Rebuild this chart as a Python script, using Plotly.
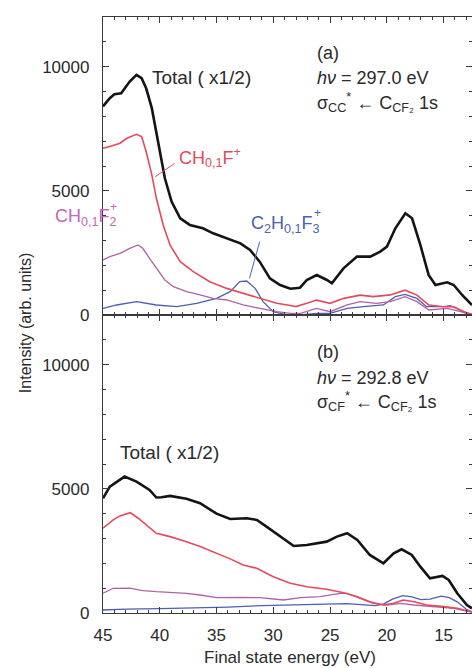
import plotly.graph_objects as go
from plotly.subplots import make_subplots

# ---------------- panel (a): hv = 297.0 eV ----------------
a_total_e = [45, 44.4, 44.0, 43.4, 42.65, 42.05, 41.6, 41.2, 40.7, 40.15, 39.55, 38.96,
             38.2, 37.35, 36.2, 35.3, 34.1, 32.9, 32.05, 31.2, 30.3, 29.4, 28.5, 27.65,
             27.05, 26.17, 25.28, 24.84, 23.82, 22.63, 21.46, 20.58, 19.99, 19.25, 18.37,
             17.78, 17.05, 16.32, 15.72, 14.69, 14.11, 13.37, 12.5]
a_total_i = [8400, 8730, 8890, 8930, 9400, 9670, 9535, 9130, 8330, 6985, 5505, 4566,
             3893, 3627, 3490, 3290, 3087, 2885, 2620, 2148, 1475, 1209, 1060, 1100,
             1410, 1612, 1410, 1274, 1878, 2350, 2350, 2551, 2752, 3490, 4094,
             3893, 2820, 1612, 1209, 1315, 1209, 806, 403]

a_chf_e = [45, 44.4, 43.5, 42.9, 42.05, 41.6, 41.2, 40.7, 40.3, 39.7, 39.1, 38.2, 37.05,
           35.6, 34.1, 32.65, 31.2, 29.7, 28.5, 28.0, 27.05, 26.2, 25.0, 23.8, 22.35,
           21.2, 19.7, 18.4, 17.35, 16.3, 15.0, 14.1, 13.2, 12.5]
a_chf_i = [6714, 6782, 6916, 7117, 7278, 7185, 6581, 5642, 4699, 3627, 2821, 2148, 1745,
           1342, 1072, 870, 669, 470, 380, 340, 470, 600, 470, 670, 800,
           740, 810, 1000, 800, 400, 330, 330, 130, 30]

a_chf2_e = [45, 44.4, 43.5, 42.65, 41.9, 41.5, 40.9, 40.3, 39.55, 38.8, 37.65, 36.45, 35.3,
            34.1, 32.65, 31.2, 29.7, 28.5, 27.6, 26.2, 25.0, 23.5, 22.35, 20.9, 19.7,
            18.4, 17.35, 16.3, 14.7, 13.5, 12.5]
a_chf2_i = [2216, 2350, 2484, 2686, 2820, 2686, 2283, 1880, 1410, 1141, 940, 806, 669,
            604, 403, 266, 133, 64, 64, 266, 133, 403, 536, 468, 536,
            737, 536, 201, 266, 133, 0]

a_c2hf3_e = [45, 43.8, 42.05, 40.3, 38.5, 36.75, 35.0, 33.8, 32.95, 32.35, 31.6, 30.9, 30.0,
             28.8, 27.6, 26.2, 25.0, 23.5, 22.05, 20.3, 19.25, 18.4, 17.35, 16.5, 15.0,
             14.4, 13.4, 12.5]
a_c2hf3_i = [266, 403, 536, 403, 335, 468, 669, 940, 1342, 1370, 1072, 536, 133,
             0, 0, 64, 64, 266, 335, 403, 737, 830, 669, 335, 335,
             375, 161, 0]

# ---------------- panel (b): hv = 292.8 eV ----------------
b_total_e = [45, 44.4, 43.1, 42.05, 40.9, 40.3, 39.85, 39.1, 37.65, 36.45, 35.0, 33.8,
             32.35, 31.45, 30.6, 29.4, 28.2, 27.05, 25.3, 24.4, 23.5, 22.6, 21.5, 20.3,
             19.4, 18.7, 17.8, 17.05, 16.2, 15.1, 14.55, 13.8, 12.95, 12.5]
b_total_i = [4622, 5090, 5493, 5291, 4957, 4650, 4662, 4715, 4600, 4421, 4000, 3788,
             3816, 3748, 3478, 3075, 2700, 2740, 2873, 3075, 3212, 2942, 2337, 2003,
             2406, 2567, 2337, 1866, 1398, 1491, 1330, 794, 322, 189]

b_chf_e = [45, 44.1, 43.5, 42.6, 41.9, 40.9, 40.3, 39.1, 37.65, 36.45, 35.0, 33.8, 32.65,
           31.45, 30.0, 28.5, 27.05, 25.3, 23.8, 22.6, 21.5, 20.3, 19.4, 18.55, 17.6,
           16.5, 15.0, 13.8, 12.5]
b_chf_i = [3413, 3748, 3909, 4042, 3816, 3413, 3209, 3075, 2873, 2673, 2405, 2180, 1934,
           1801, 1463, 1197, 1060, 955, 818, 657, 455, 322, 391, 524, 455,
           322, 255, 189, 40]

b_chf2_e = [45, 44.1, 42.65, 41.5, 40.3, 38.8, 37.65, 36.45, 35.0, 32.95, 31.2, 29.1,
            27.6, 25.9, 24.1, 23.5, 22.35, 21.2, 20.0, 18.8, 17.6, 15.9, 14.1, 12.5]
b_chf2_i = [794, 995, 1000, 900, 858, 818, 794, 725, 620, 633, 617, 524,
            617, 657, 794, 794, 592, 391, 322, 391, 322, 255, 189, 40]

b_c2hf3_e = [45, 43, 40, 37, 34, 31, 28, 25, 23.5, 22, 21, 20.3, 19.5, 18.6, 17.8, 17,
             16.2, 15.2, 14.5, 13.8, 13, 12.5]
b_c2hf3_i = [120, 160, 180, 200, 240, 300, 330, 360, 380, 330, 300, 360, 560, 700, 650, 540,
             560, 680, 620, 450, 150, 40]

# axis ticks
x_ticks = [45, 40, 35, 30, 25, 20, 15]
y_ticks = [0, 5000, 10000]
y_tick_text = ["0", "5000", "10000"]

COL_TOTAL = "#141414"
COL_CHF = "#e44a5c"
COL_CHF2 = "#b062a6"
COL_C2HF3 = "#4d5fb3"
AXIS_COL = "#3a3a3a"
TEXT_COL = "#2a2a2a"
FONT = "Liberation Sans, Arial, sans-serif"

fig = make_subplots(rows=2, cols=1, shared_xaxes=True, vertical_spacing=0)


def add_line(e, i, color, width, row):
    fig.add_trace(go.Scatter(x=e, y=i, mode="lines",
                             line=dict(color=color, width=width),
                             showlegend=False, hoverinfo="skip"),
                  row=row, col=1)


for row, series in ((1, [(a_c2hf3_e, a_c2hf3_i, COL_C2HF3, 1.3),
                         (a_chf2_e, a_chf2_i, COL_CHF2, 1.3),
                         (a_chf_e, a_chf_i, COL_CHF, 1.6),
                         (a_total_e, a_total_i, COL_TOTAL, 2.6)]),
                    (2, [(b_c2hf3_e, b_c2hf3_i, COL_C2HF3, 1.3),
                         (b_chf2_e, b_chf2_i, COL_CHF2, 1.3),
                         (b_chf_e, b_chf_i, COL_CHF, 1.6),
                         (b_total_e, b_total_i, COL_TOTAL, 2.6)])):
    for e, i, c, w in series:
        add_line(e, i, c, w, row)

axis_common = dict(showline=True, linecolor=AXIS_COL, linewidth=1.3, mirror="allticks",
                   ticks="inside", ticklen=6, tickwidth=1.2, tickcolor=AXIS_COL,
                   showgrid=False, zeroline=False,
                   tickfont=dict(family=FONT, size=17, color=TEXT_COL))

fig.update_xaxes(range=[45, 12.5], tickvals=x_ticks,
                 minor=dict(dtick=1, tick0=45, ticks="inside", ticklen=3, tickwidth=1,
                            tickcolor=AXIS_COL),
                 ticklabelstandoff=6, **axis_common)
fig.update_yaxes(range=[0, 12000], tickvals=y_ticks, ticktext=y_tick_text,
                 minor=dict(dtick=1000, tick0=0, ticks="inside", ticklen=3, tickwidth=1,
                            tickcolor=AXIS_COL),
                 ticklabelstandoff=9, **axis_common)


def note(text, x, y, xref, yref, color=TEXT_COL, size=18, **kw):
    fig.add_annotation(text=text, x=x, y=y, xref=xref, yref=yref, showarrow=False,
                       xanchor=kw.pop("xanchor", "left"), yanchor=kw.pop("yanchor", "middle"),
                       font=dict(family=FONT, size=size, color=color), **kw)


# panel (a) labels
note("Total ( x1/2)", 40.9, 9550, "x", "y", size=19)
note("(a)", 26.3, 10550, "x", "y")
note("<i>hν</i> = 297.0 eV", 26.3, 9550, "x", "y")
note("σ<sub>CC</sub><sup>*</sup> ← C<sub>CF₂</sub> 1s", 26.3, 8550, "x", "y")
note("CH<sub>0,1</sub>F<sup>+</sup>", 38.5, 6360, "x", "y", color=COL_CHF)

# ion labels whose charge sits directly above the fluorine count
note("CH<sub>0,1</sub>F<sub>2</sub>", -0.1355, 0.663, "paper", "paper", color="#c467b6")
note("+", 0.029, 0.681, "paper", "paper", color="#c467b6", size=12, xanchor="center")
note("C<sub>2</sub>H<sub>0,1</sub>F<sub>3</sub>", 32.1, 3660, "x", "y", color=COL_C2HF3)
note("+", 26.1, 4110, "x", "y", color=COL_C2HF3, size=12, xanchor="center")

fig.add_shape(type="line", x0=40.4, y0=5570, x1=38.7, y1=6100, xref="x", yref="y",
              line=dict(color=COL_CHF, width=1))
fig.add_shape(type="line", x0=32.1, y0=1480, x1=31.2, y1=2950, xref="x", yref="y",
              line=dict(color=COL_C2HF3, width=1))

# panel (b) labels
note("(b)", 26.3, 10500, "x2", "y2")
note("<i>hν</i> = 292.8 eV", 26.3, 9460, "x2", "y2")
note("σ<sub>CF</sub><sup>*</sup> ← C<sub>CF₂</sub> 1s", 26.3, 8500, "x2", "y2")
note("Total ( x1/2)", 43.7, 6450, "x2", "y2", size=19)

# shared axis titles
note("Intensity (arb. units)", -0.2114, 0.488, "paper", "paper", size=16,
     xanchor="center", textangle=-90)
note("Final state energy (eV)", 0.508, -0.074, "paper", "paper", size=17,
     xanchor="center")

fig.update_layout(width=472, height=668, margin=dict(l=103, r=0, t=17, b=55),
                  paper_bgcolor="white", plot_bgcolor="white",
                  font=dict(family=FONT, color=TEXT_COL))

fig.write_html("out.html")
